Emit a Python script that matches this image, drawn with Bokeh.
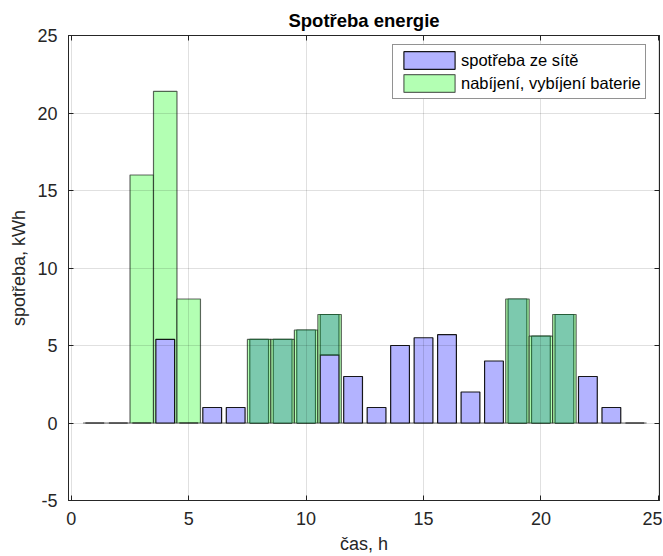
from bokeh.plotting import figure
from bokeh.models import (ColumnDataSource, Range1d, LinearAxis, Legend, LegendItem,
                          FixedTicker, CustomJSTickFormatter)
from bokeh.embed import file_html
from bokeh.resources import INLINE

# ---- data ----
hours = list(range(1, 25))
grid = [0, 0, 0, 5.4, 0, 1, 1, 0, 0, 0, 4.4, 3, 1, 5, 5.5, 5.7, 2, 4, 0, 0, 0, 3, 1, 0]
battery = [0, 0, 16, 21.4, 8, 0, 0, 5.4, 5.4, 6, 7, 0, 0, 0, 0, 0, 0, 0, 8, 5.6, 7, 0, 0, 0]
discharge_hours = [8, 9, 10, 11, 19, 20, 21]

x_ticks = [0, 5, 10, 15, 20, 25]
y_ticks = [-5, 0, 5, 10, 15, 20, 25]

title = "Spotřeba energie"
x_label = "čas, h"
y_label = "spotřeba, kWh"
label_grid = "spotřeba ze sítě"
label_batt = "nabíjení, vybíjení baterie"

BLUE = "#b3b3ff"
GREEN = "#b3ffb3"
TEAL = "#7cc9ae"
AX = "#262626"
FONT = "Liberation Sans"

src_b = ColumnDataSource(dict(x=hours, top=battery))
src_g = ColumnDataSource(dict(x=hours, top=grid))
d_x = [h for h in hours if h in discharge_hours]
d_bot = [grid[hours.index(h)] for h in d_x]
d_top = [battery[hours.index(h)] for h in d_x]
src_t = ColumnDataSource(dict(x=d_x, bottom=d_bot, top=d_top))

p = figure(width=662, height=556, output_backend="svg", toolbar_location=None,
           x_range=Range1d(-0.12, 25.05), y_range=Range1d(-5, 25),
           min_border_left=68, min_border_right=3, min_border_top=35, min_border_bottom=54)

p.title.text = title
p.title.align = "center"
p.title.text_font = FONT
p.title.text_font_size = "18.5px"
p.title.text_font_style = "bold"
p.title.text_color = "#000000"
p.title.offset = 0
p.title.standoff = 10

r_b = p.vbar(x="x", top="top", bottom=0, width=1.0, source=src_b,
             fill_color=GREEN, line_color="#000000", line_alpha=0.6, line_width=1.2)
r_g = p.vbar(x="x", top="top", bottom=0, width=0.8, source=src_g,
             fill_color=BLUE, line_color="#000000", line_alpha=0.9, line_width=1.2)
r_t = p.vbar(x="x", top="top", bottom="bottom", width=0.8, source=src_t,
             fill_color=TEAL, line_color="#0f4a1f", line_alpha=0.75, line_width=1.2)

# axes
plain = CustomJSTickFormatter(code="return tick.toString()")
for ax in (p.xaxis[0], p.yaxis[0]):
    ax.axis_line_color = AX
    ax.major_tick_line_color = AX
    ax.major_tick_in = 5
    ax.major_tick_out = 0
    ax.minor_tick_line_color = None
    ax.major_label_text_font = FONT
    ax.major_label_text_font_size = "18px"
    ax.major_label_text_color = AX
    ax.axis_label_text_font = FONT
    ax.axis_label_text_font_size = "18px"
    ax.axis_label_text_font_style = "normal"
    ax.axis_label_text_color = AX

p.xaxis[0].ticker = FixedTicker(ticks=x_ticks)
p.yaxis[0].ticker = FixedTicker(ticks=y_ticks)
p.xaxis[0].formatter = CustomJSTickFormatter(code="return tick.toString()")
p.yaxis[0].formatter = plain
p.xaxis[0].axis_label = x_label
p.yaxis[0].axis_label = y_label
p.xaxis[0].major_label_standoff = 11
p.xaxis[0].axis_label_standoff = 6
p.yaxis[0].major_label_standoff = 11
p.yaxis[0].axis_label_standoff = 5

# box axes (ticks only)
top_ax = LinearAxis(ticker=FixedTicker(ticks=x_ticks), formatter=CustomJSTickFormatter(code="return ''"),
                    major_label_text_color=None, major_label_standoff=0,
                    major_tick_in=5, major_tick_out=0,
                    minor_tick_line_color=None, axis_line_color=AX, major_tick_line_color=AX)
right_ax = LinearAxis(ticker=FixedTicker(ticks=y_ticks), formatter=CustomJSTickFormatter(code="return ''"),
                      major_label_text_color=None, major_label_standoff=0,
                      major_tick_in=5, major_tick_out=0,
                      minor_tick_line_color=None, axis_line_color=AX, major_tick_line_color=AX)
p.add_layout(top_ax, "above")
p.add_layout(right_ax, "right")

p.xgrid.ticker = FixedTicker(ticks=x_ticks)
p.ygrid.ticker = FixedTicker(ticks=y_ticks)
for g in (p.xgrid[0], p.ygrid[0]):
    g.grid_line_color = "#000000"
    g.grid_line_alpha = 0.12
    g.level = "annotation"

p.outline_line_color = AX
p.background_fill_color = "white"
p.border_fill_color = "white"

legend = Legend(items=[LegendItem(label=label_grid, renderers=[r_g]),
                       LegendItem(label=label_batt, renderers=[r_b])],
                location=(324, 401), glyph_width=64, glyph_height=22,
                label_text_font=FONT, label_text_font_size="16.5px", label_text_color="#000000",
                spacing=1, padding=4, margin=0, label_standoff=0,
                border_line_color=AX, border_line_width=1, background_fill_alpha=1)
p.add_layout(legend)

open("out.html", "w").write(file_html(p, INLINE))
